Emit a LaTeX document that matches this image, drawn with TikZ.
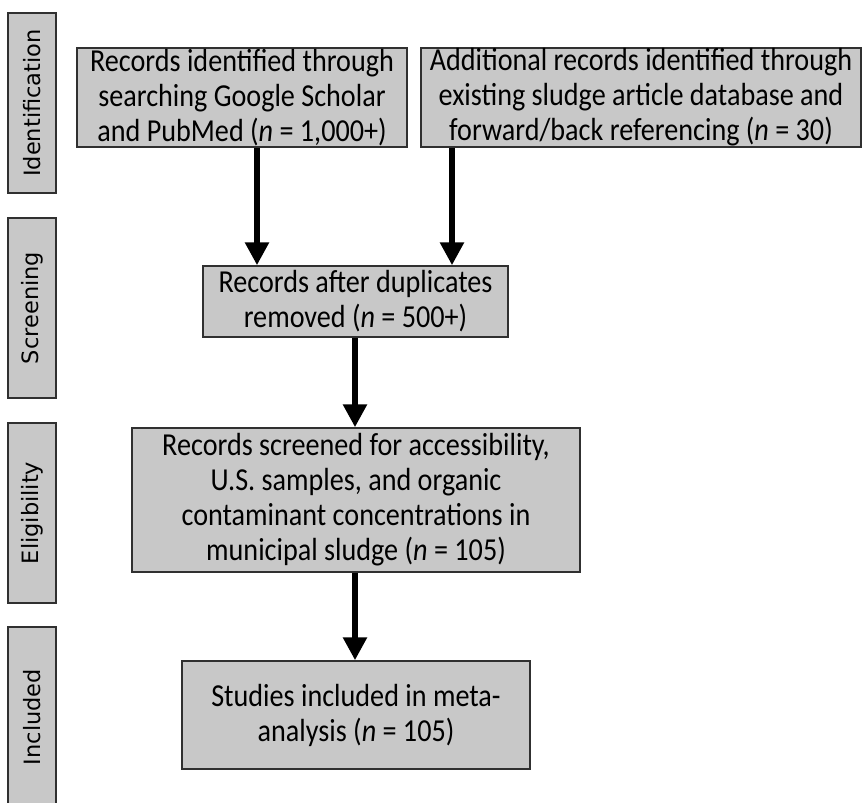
\documentclass[tikz,border=0pt]{standalone}
\usepackage{fontspec}
\setmainfont[FakeStretch=0.88]{Carlito}
\newfontfamily\sidefont{DejaVu Sans}
\usetikzlibrary{arrows.meta}
\definecolor{boxfill}{HTML}{C8C8C8}
\definecolor{boxline}{HTML}{303030}
\tikzset{
  flowbox/.style={draw=boxline, fill=boxfill, line width=1.5pt, align=center,
    inner sep=0pt, font=\fontsize{32}{35}\selectfont},
  sidebox/.style={draw=boxline, fill=boxfill, line width=1.5pt, rotate=90,
    minimum width=180pt, minimum height=48pt, inner sep=0pt,
    font=\sidefont\fontsize{22.5}{26}\selectfont},
  arr/.style={line width=6pt, -{Triangle[length=23pt 0, width=23pt 0]}},
}
\begin{document}
\begin{tikzpicture}[x=1pt, y=-1pt]
\useasboundingbox (0,0) rectangle (863,803);
% side labels
\node[sidebox] (sid) at (32,103) {Identification};
\node[sidebox] (sscr) at (32,308) {Screening};
\node[sidebox] (seli) at (32,513) {Eligibility};
\node[sidebox] (sinc) at (32,717) {Included};
% boxes
\node[flowbox, minimum width=330pt, minimum height=99pt] (b1) at (242,97.5)
  {Records identified through\\searching Google Scholar\\and PubMed (\textit{n} = 1,000+)};
\node[flowbox, minimum width=440pt, minimum height=99pt] (b2) at (641,97.5)
  {Additional records identified through\\existing sludge article database and\\forward/back referencing (\textit{n} = 30)};
\node[flowbox, minimum width=305pt, minimum height=71pt] (b3) at (355.5,301.5)
  {Records after duplicates\\removed (\textit{n} = 500+)};
\node[flowbox, minimum width=448pt, minimum height=144pt] (b4) at (356,500)
  {Records screened for accessibility,\\U.S. samples, and organic\\contaminant concentrations in\\municipal sludge (\textit{n} = 105)};
\node[flowbox, minimum width=348pt, minimum height=108pt] (b5) at (356,715)
  {Studies included in meta-\\analysis (\textit{n} = 105)};
% arrows
\coordinate (xa) at (257,0);
\coordinate (xb) at (452,0);
\coordinate (xc) at (355,0);
\draw[arr] (b1.south -| xa) -- (b3.north -| xa);
\draw[arr] (b2.south -| xb) -- (b3.north -| xb);
\draw[arr] (b3.south -| xc) -- (b4.north -| xc);
\draw[arr] (b4.south -| xc) -- (b5.north -| xc);
\end{tikzpicture}
\end{document}
